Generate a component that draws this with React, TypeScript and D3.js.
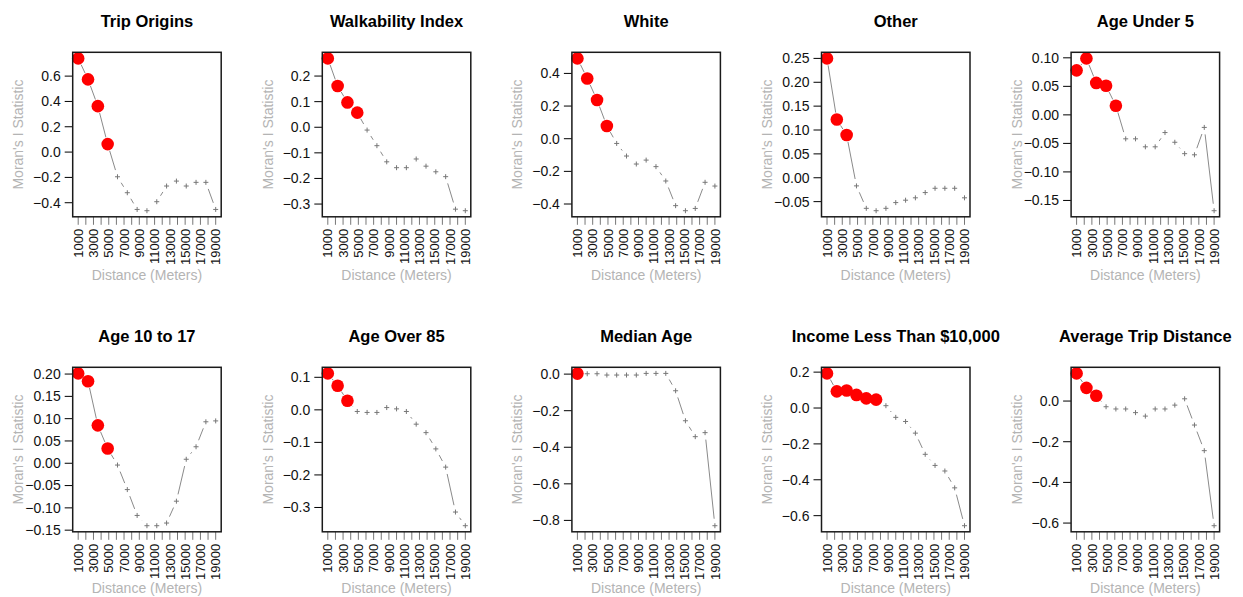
import * as d3 from "d3";

// distance bands (15 correlogram lags spread over 1000–19000 m)
const distances = [1000, 2286, 3571, 4857, 6143, 7429, 8714, 10000, 11286, 12571, 13857, 15143, 16429, 17714, 19000];
const xTickValues = [1000, 2000, 3000, 4000, 5000, 6000, 7000, 8000, 9000, 10000, 11000, 12000, 13000, 14000, 15000, 16000, 17000, 18000, 19000];
const xTickLabels = [1000, 3000, 5000, 7000, 9000, 11000, 13000, 15000, 17000, 19000];

const titles = [
  "Trip Origins",
  "Walkability Index",
  "White",
  "Other",
  "Age Under 5",
  "Age 10 to 17",
  "Age Over 85",
  "Median Age",
  "Income Less Than $10,000",
  "Average Trip Distance",
];

const tripOrigins = [0.74, 0.574, 0.363, 0.063, -0.195, -0.321, -0.453, -0.463, -0.392, -0.268, -0.229, -0.268, -0.239, -0.239, -0.453];
const walkability = [0.269, 0.161, 0.097, 0.057, -0.011, -0.072, -0.135, -0.158, -0.158, -0.124, -0.152, -0.174, -0.193, -0.32, -0.326];
const white = [0.492, 0.369, 0.237, 0.078, -0.029, -0.106, -0.155, -0.131, -0.171, -0.259, -0.41, -0.441, -0.427, -0.267, -0.29];
const other = [0.25, 0.122, 0.0895, -0.017, -0.064, -0.069, -0.064, -0.052, -0.047, -0.042, -0.031, -0.022, -0.022, -0.022, -0.042];
const ageUnder5 = [0.078, 0.099, 0.056, 0.051, 0.016, -0.042, -0.042, -0.056, -0.056, -0.031, -0.048, -0.068, -0.07, -0.022, -0.168];
const age10to17 = [0.2015, 0.184, 0.085, 0.033, -0.004, -0.059, -0.117, -0.14, -0.14, -0.134, -0.085, 0.009, 0.037, 0.093, 0.095];
const ageOver85 = [0.112, 0.074, 0.028, -0.005, -0.008, -0.008, 0.007, 0.003, -0.005, -0.044, -0.07, -0.12, -0.176, -0.314, -0.356];
const medianAge = [0.003, 0.002, 0.002, -0.005, -0.005, -0.005, -0.005, 0.004, 0.004, 0.004, -0.091, -0.255, -0.342, -0.32, -0.829];
const incomeUnder10k = [0.193, 0.093, 0.098, 0.073, 0.054, 0.047, 0.013, -0.052, -0.075, -0.14, -0.258, -0.32, -0.351, -0.445, -0.656];
const avgTripDistance = [0.136, 0.065, 0.026, -0.028, -0.039, -0.039, -0.057, -0.074, -0.039, -0.039, -0.02, 0.011, -0.118, -0.244, -0.613];

const seriesList = [tripOrigins, walkability, white, other, ageUnder5, age10to17, ageOver85, medianAge, incomeUnder10k, avgTripDistance];

// number of leading lags that are significant (drawn as red dots)
const significantCounts = [4, 4, 4, 3, 5, 4, 3, 1, 6, 3];

const yTickSets = [
  [-0.4, -0.2, 0, 0.2, 0.4, 0.6],
  [-0.3, -0.2, -0.1, 0, 0.1, 0.2],
  [-0.4, -0.2, 0, 0.2, 0.4],
  [-0.05, 0, 0.05, 0.1, 0.15, 0.2, 0.25],
  [-0.15, -0.1, -0.05, 0, 0.05, 0.1],
  [-0.15, -0.1, -0.05, 0, 0.05, 0.1, 0.15, 0.2],
  [-0.3, -0.2, -0.1, 0, 0.1],
  [-0.8, -0.6, -0.4, -0.2, 0],
  [-0.6, -0.4, -0.2, 0, 0.2],
  [-0.6, -0.4, -0.2, 0],
];
const yTickDecimals = [1, 1, 1, 2, 2, 2, 1, 1, 1, 1];

const W = 1243;
const H = 597;
const BOX_W = 148.5;
const BOX_H = 164.5;
const GAP = 7; // R type="b" gap around points
const FONT = "'Liberation Sans', Arial, Helvetica, sans-serif";

function Panel({ idx }: { idx: number }) {
  const col = idx % 5;
  const row = Math.floor(idx / 5);
  const left = 72.7 + col * 249.6;
  const top = row === 0 ? 52.3 : 367.3;
  const values = seriesList[idx];
  const nSig = significantCounts[idx];

  const [lo, hi] = d3.extent(values) as [number, number];
  const pad = (hi - lo) * 0.04;
  const y = d3.scaleLinear().domain([lo - pad, hi + pad]).range([top + BOX_H, top]);
  const xPad = (19000 - 1000) * 0.04;
  const x = d3.scaleLinear().domain([1000 - xPad, 19000 + xPad]).range([left, left + BOX_W]);

  const pts = values.map((v, i) => [x(distances[i]), y(v)] as [number, number]);
  const segs: string[] = [];
  for (let i = 0; i < pts.length - 1; i++) {
    const [x0, y0] = pts[i];
    const [x1, y1] = pts[i + 1];
    const len = Math.hypot(x1 - x0, y1 - y0);
    if (len <= 2 * GAP) continue;
    const ux = (x1 - x0) / len;
    const uy = (y1 - y0) / len;
    segs.push(`M${x0 + ux * GAP},${y0 + uy * GAP}L${x1 - ux * GAP},${y1 - uy * GAP}`);
  }

  const fmt = d3.format(`.${yTickDecimals[idx]}f`);
  const bottom = top + BOX_H;

  return (
    <g>
      <text
        x={left + BOX_W / 2}
        y={top - 25}
        textAnchor="middle"
        fontWeight="bold"
        fontSize={16.5}
        fill="#000"
      >
        {titles[idx]}
      </text>

      {/* y axis */}
      {yTickSets[idx].map((t) => (
        <g key={t}>
          <line x1={left - 8} x2={left} y1={y(t)} y2={y(t)} stroke="#000" strokeWidth={1} />
          <text x={left - 12} y={y(t)} dy="0.35em" textAnchor="end" fontSize={14} fill="#111">
            {fmt(t)}
          </text>
        </g>
      ))}
      <text
        transform={`translate(${left - 54.4},${top + BOX_H / 2}) rotate(-90)`}
        textAnchor="middle"
        dy="0.35em"
        fontSize={14}
        fill="#b4b4b4"
      >
        Moran's I Statistic
      </text>

      {/* x axis */}
      {xTickValues.map((t) => (
        <line key={t} x1={x(t)} x2={x(t)} y1={bottom} y2={bottom + 8} stroke="#777" strokeWidth={1} />
      ))}
      {xTickLabels.map((t) => (
        <text
          key={t}
          transform={`translate(${x(t)},${bottom + 12}) rotate(-90)`}
          textAnchor="end"
          dy="0.36em"
          fontSize={13}
          fill="#111"
        >
          {t}
        </text>
      ))}
      <text
        x={left + BOX_W / 2}
        y={bottom + (row === 0 ? 63.5 : 61)}
        textAnchor="middle"
        fontSize={14}
        fill="#b4b4b4"
      >
        Distance (Meters)
      </text>

      {/* connecting line with gaps */}
      <path d={segs.join("")} fill="none" stroke="#8a8a8a" strokeWidth={1} />

      {/* non-significant lags */}
      {pts.slice(nSig).map(([px, py], i) => (
        <path
          key={i}
          d={`M${px - 2.5},${py}H${px + 2.5}M${px},${py - 2.5}V${py + 2.5}`}
          stroke="#777"
          strokeWidth={1}
        />
      ))}
      {/* significant lags */}
      {pts.slice(0, nSig).map(([px, py], i) => (
        <circle key={i} cx={px} cy={py} r={6.3} fill="#ff0000" />
      ))}

      <rect x={left} y={top} width={BOX_W} height={BOX_H} fill="none" stroke="#1a1a1a" strokeWidth={1.5} />
    </g>
  );
}

export default function App() {
  return (
    <svg
      width={W}
      height={H}
      viewBox={`0 0 ${W} ${H}`}
      style={{ position: "absolute", left: 0, top: 0, background: "#fff" }}
      fontFamily={FONT}
    >
      <rect width={W} height={H} fill="#fff" />
      {titles.map((_, i) => (
        <Panel key={i} idx={i} />
      ))}
    </svg>
  );
}
